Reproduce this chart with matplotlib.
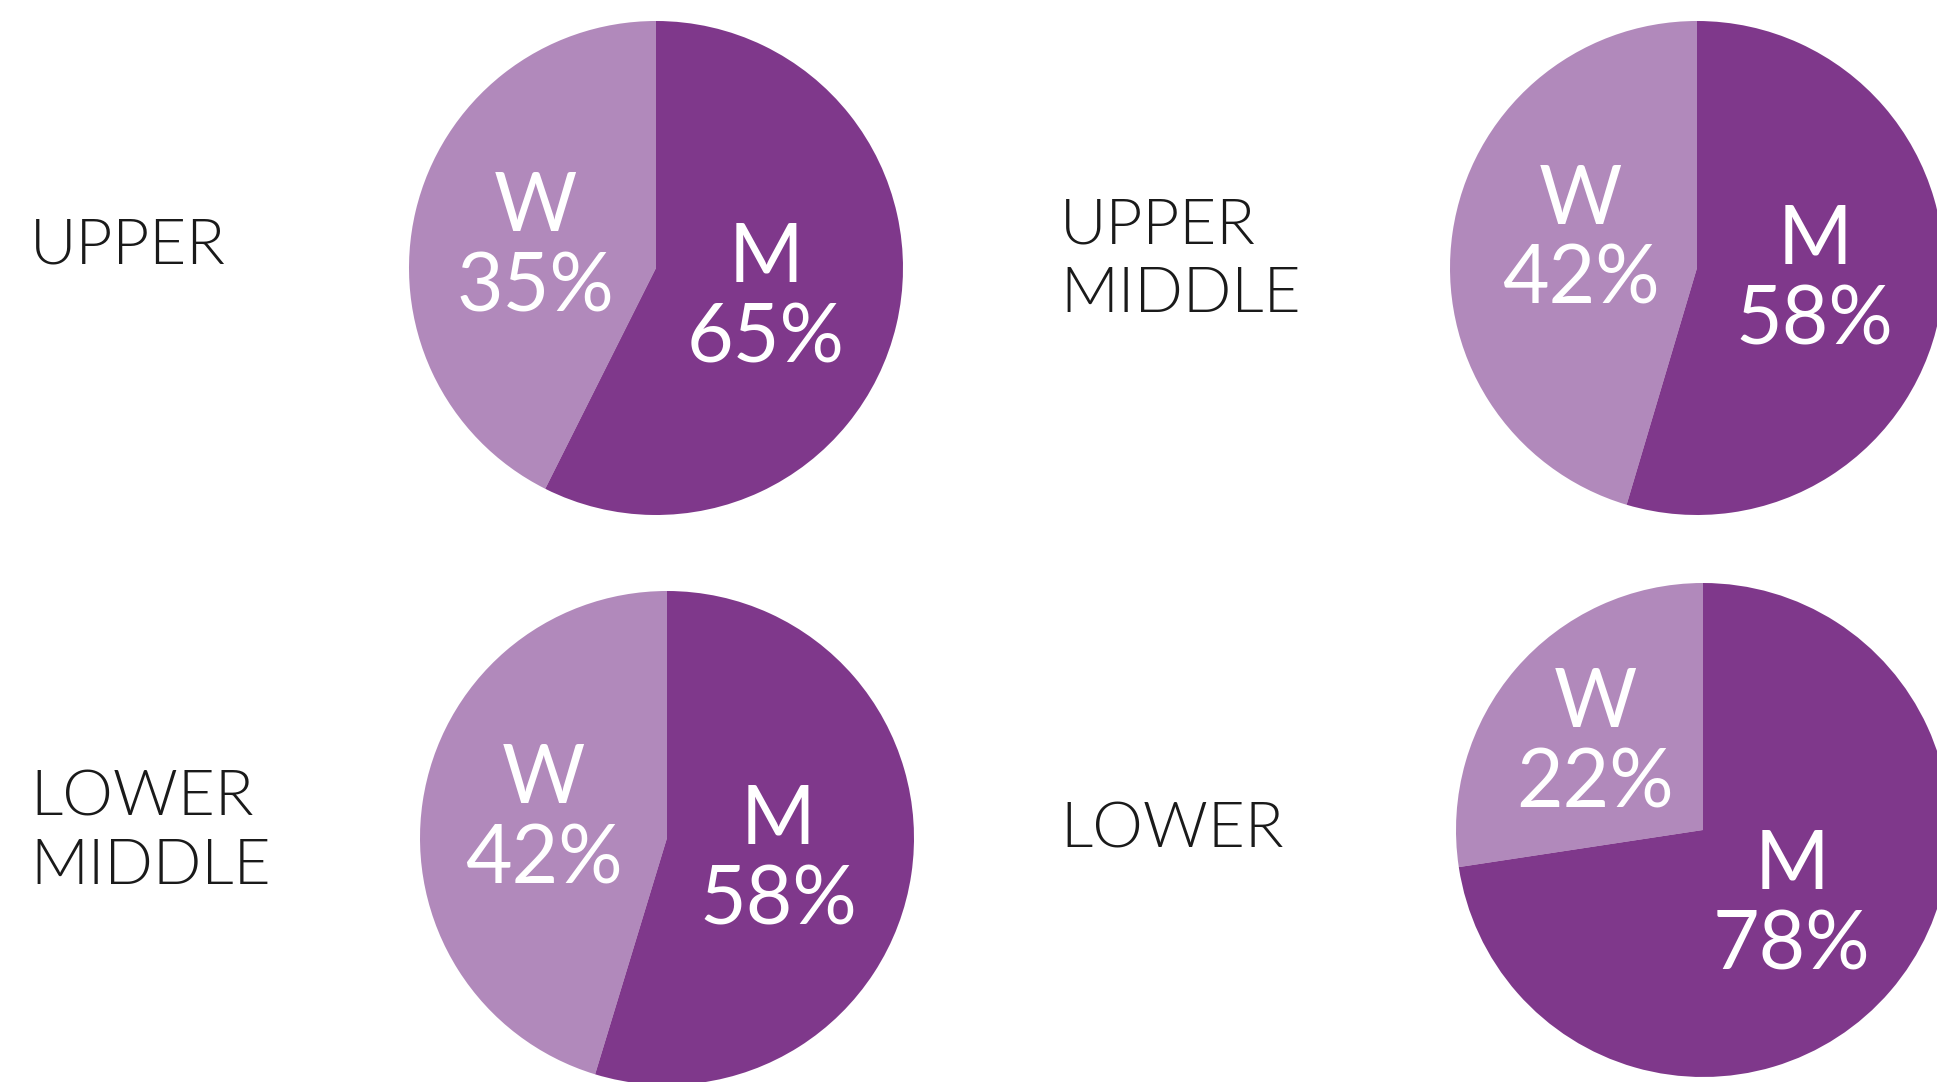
import matplotlib
matplotlib.use("Agg")
import matplotlib.pyplot as plt

# data
classes = ["UPPER", "UPPER\nMIDDLE", "LOWER\nMIDDLE", "LOWER"]
women_pct = [35, 42, 42, 22]
men_pct = [65, 58, 58, 78]
# slice shares as they are actually drawn in the graphic
women_drawn = [42.6, 45.4, 45.3, 27.4]
men_drawn = [57.4, 54.6, 54.7, 72.6]

# layout (pixels, figure 1937x1082)
W, H = 1937, 1082
centers = [(656, 268), (1697, 268), (667, 838), (1703, 830)]
radius = 247
class_x = [30, 1060, 30, 1060]
class_base = [264, 243, 815, 847]
# label offsets in radius units: (x, baseline of first line)
w_pos = [(-0.49, 0.15), (-0.47, 0.18), (-0.50, 0.142), (-0.437, 0.415)]
m_pos = [(0.445, -0.057), (0.477, 0.016), (0.45, -0.024), (0.36, -0.24)]
gap = 0.325

dark = "#7f388b"
light = "#b189bb"

plt.rcParams["font.family"] = ["Lato", "DejaVu Sans"]

fig = plt.figure(figsize=(W / 100, H / 100), dpi=100)
fig.patch.set_facecolor("white")

for i, name in enumerate(classes):
    cx, cy = centers[i]
    ax = fig.add_axes([(cx - radius) / W, 1 - (cy + radius) / H, 2 * radius / W, 2 * radius / H])
    ax.pie([women_drawn[i], men_drawn[i]], colors=[light, dark], startangle=90,
           counterclock=True, radius=1, wedgeprops=dict(linewidth=0))
    ax.set_xlim(-1, 1)
    ax.set_ylim(-1, 1)
    ax.set_aspect("equal")
    ax.axis("off")

    for pos, tag, pct in [(w_pos[i], "W", women_pct[i]), (m_pos[i], "M", men_pct[i])]:
        x, y = pos
        ax.text(x, y, tag, color="white", fontsize=58, fontweight=400,
                ha="center", va="baseline")
        ax.text(x, y - gap, f"{pct}%", color="white", fontsize=58, fontweight=400,
                ha="center", va="baseline")

    # category label on the left of each pie
    for j, line in enumerate(name.split("\n")):
        base = class_base[i] + j * 69
        fig.text(class_x[i] / W, 1 - base / H, line, color="#1a1a1a", fontsize=46,
                 fontweight=300, ha="left", va="baseline")

fig.savefig("out.png", dpi=100, facecolor="white")
